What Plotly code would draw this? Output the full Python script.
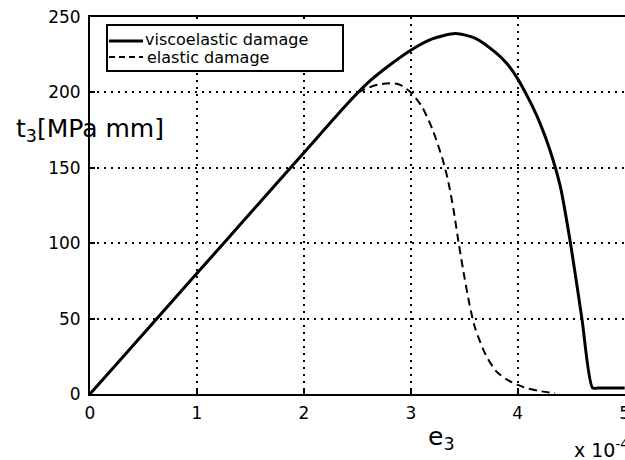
import plotly.graph_objects as go

# strain e3 (x 1e-4) and traction t3 [MPa mm]
visco_e = [0, 0.5, 1.0, 1.5, 2.0, 2.4, 2.6, 2.8, 3.0, 3.2, 3.42, 3.6, 3.8, 3.9, 4.0,
           4.1, 4.2, 4.3, 4.4, 4.5, 4.6, 4.7, 4.75, 5.0]
visco_t = [0, 40, 80, 120, 160, 192, 206.5, 218, 228, 235.5, 239, 236, 226, 219, 209,
           196, 181, 162, 137, 97, 50, 4, 4, 4]

elastic_e = [0, 0.5, 1.0, 1.5, 2.0, 2.4, 2.5, 2.6, 2.7, 2.84, 2.9, 3.0, 3.1, 3.2, 3.3, 3.35,
             3.4, 3.45, 3.5, 3.55, 3.6, 3.7, 3.8, 3.9, 4.0, 4.1, 4.2, 4.35]
elastic_t = [0, 40, 80, 120, 160, 192, 199.5, 203, 205.3, 206, 205, 200, 191, 176, 155, 141,
             122, 99, 78, 59, 44, 26, 15, 9.5, 6, 3.5, 2, 0.5]

x_ticks = [0, 1, 2, 3, 4, 5]
y_ticks = [0, 50, 100, 150, 200, 250]

legend_names = ["viscoelastic damage", "elastic damage"]

FONT = "DejaVu Sans"

fig = go.Figure()
fig.add_trace(go.Scatter(x=visco_e, y=visco_t, mode="lines", name=legend_names[0],
                         line=dict(color="black", width=3, shape="spline", smoothing=0.7),
                         showlegend=False))
fig.add_trace(go.Scatter(x=elastic_e, y=elastic_t, mode="lines", name=legend_names[1],
                         line=dict(color="black", width=2, dash="8px,5px",
                                   shape="spline", smoothing=0.7),
                         showlegend=False))

grid = dict(showgrid=True, gridcolor="black", gridwidth=1.5, griddash="2px,5px",
            zeroline=False, showline=True, linecolor="black", linewidth=2,
            ticks="inside", ticklen=5, tickcolor="black", tickwidth=1.5,
            automargin=False,
            tickfont=dict(family=FONT, size=17, color="black"))

fig.update_xaxes(range=[0, 5.003], tickvals=x_ticks, mirror=True, ticklabelstandoff=3,
                 ticklabeloverflow="allow", **grid)
fig.update_yaxes(range=[0, 250], tickvals=y_ticks, mirror=False, ticklabelstandoff=4, **grid)

# plot area in pixels: left 90, right 625, top 17, bottom 394
L, R, T, B = 90, 625, 17, 394
def px(xp):
    return (xp - L) / (R - L)
def py(yp):
    return 1 - (yp - T) / (B - T)

shapes = [
    # legend box
    dict(type="rect", xref="paper", yref="paper", x0=px(107), x1=px(343), y0=py(71), y1=py(25),
         line=dict(color="black", width=2), fillcolor="white", layer="above"),
    dict(type="line", xref="paper", yref="paper", x0=px(109), x1=px(143), y0=py(41), y1=py(41),
         line=dict(color="black", width=3), layer="above"),
    dict(type="line", xref="paper", yref="paper", x0=px(109), x1=px(143), y0=py(57), y1=py(57),
         line=dict(color="black", width=2, dash="6px,4px"), layer="above"),
]

annotations = [
    dict(text=legend_names[0], xref="paper", yref="paper", x=px(143), y=py(39.5),
         xanchor="left", yanchor="middle", showarrow=False,
         font=dict(family=FONT, size=16, color="black")),
    dict(text=legend_names[1], xref="paper", yref="paper", x=px(145), y=py(57),
         xanchor="left", yanchor="middle", showarrow=False,
         font=dict(family=FONT, size=16, color="black")),
    dict(text="t<sub>3</sub>[MPa mm]", xref="paper", yref="paper",
         x=-0.142, y=0.70, xanchor="left", yanchor="middle", showarrow=False,
         font=dict(family=FONT, size=25, color="black")),
    dict(text="e<sub>3</sub>", xref="paper", yref="paper",
         x=0.628, y=-0.118, xanchor="left", yanchor="middle", showarrow=False,
         font=dict(family=FONT, size=25, color="black")),
    dict(text="x 10<sup>-4</sup>", xref="paper", yref="paper",
         x=0.900, y=-0.145, xanchor="left", yanchor="middle", showarrow=False,
         font=dict(family=FONT, size=19, color="black")),
]

fig.update_layout(
    width=625, height=460,
    margin=dict(l=L, r=0, t=T, b=460 - B),
    plot_bgcolor="white", paper_bgcolor="white",
    font=dict(family=FONT, color="black"),
    showlegend=False,
    shapes=shapes,
    annotations=annotations,
)

fig.write_html("out.html")
